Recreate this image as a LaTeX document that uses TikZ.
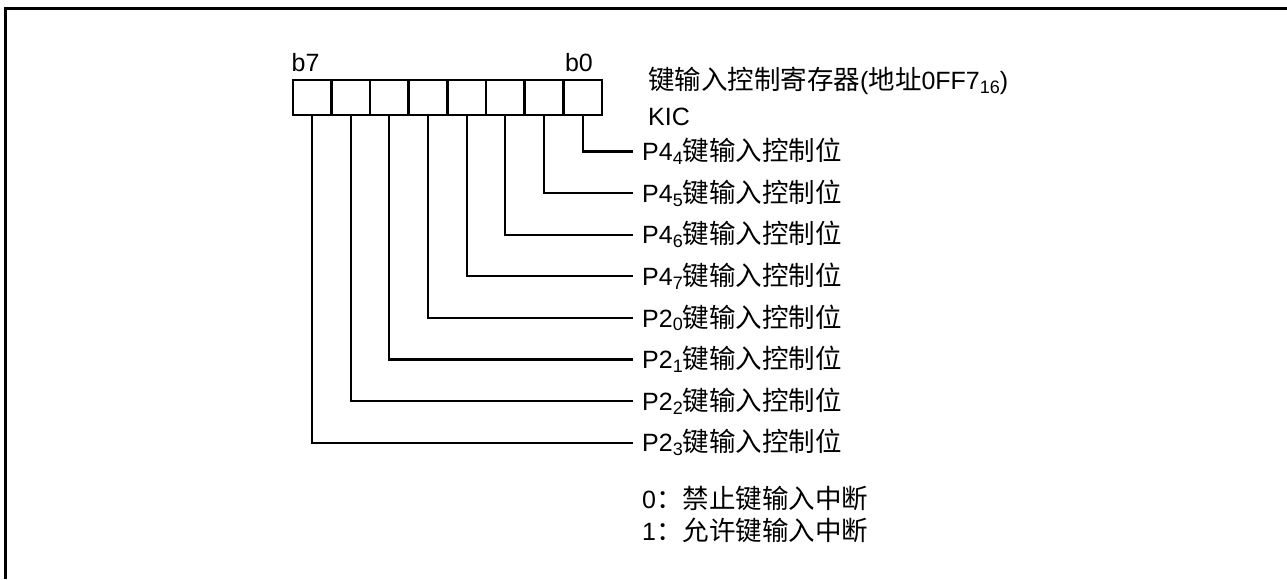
\documentclass[tikz,border=0pt]{standalone}
\usepackage{fontspec}
\setmainfont{Liberation Sans}
\newfontfamily\cjk{Noto Sans CJK SC}
\newcommand{\zh}[1]{{\cjk\fontsize{26.5}{28}\selectfont #1}}
\newcommand{\sbs}[1]{\raisebox{-0.15em}{\fontsize{18}{20}\selectfont #1}}
\begin{document}
\begin{tikzpicture}[x=1pt,y=-1pt,
  cell/.style={draw,line width=2.5pt,minimum width=38.65pt,minimum height=35pt,inner sep=0pt,anchor=north west},
  wire/.style={line width=2.2pt},
  lbl/.style={anchor=west,inner sep=0pt,font=\fontsize{25}{28}\selectfont},
  frame/.style={line width=3pt}]
\useasboundingbox (0,0) rectangle (1287,579);
\draw[frame] (5.5,579) -- (5.5,8.5) -- (1287,8.5);
% register cells, c7 leftmost
\foreach \b [evaluate=\b as \xx using {291.5+(7-\b)*38.65}] in {7,6,...,0}{
  \node[cell] (c\b) at (\xx,78.5) {};
}
\node[lbl,anchor=south west] (b7) at (291.5,72) {b7};
\node[lbl,anchor=south east] (b0) at (593,72) {b0};
\node[lbl] (title) at (648,81) {\zh{键输入控制寄存器}(\zh{地址}0FF7\sbs{16})};
\node[lbl] (kic) at (648,117) {KIC};
\foreach \b/\p/\s in {0/4/4,1/4/5,2/4/6,3/4/7,4/2/0,5/2/1,6/2/2,7/2/3}{
  \coordinate (e\b) at (633,{151.5+41.6*\b});
  \node[lbl] (t\b) at (642,{151.5+41.6*\b}) {P\p\sbs{\s}\zh{键输入控制位}};
  \draw[wire] (c\b.south) |- (e\b);
}
\node[lbl] (l0) at (642,498) {0\zh{：禁止键输入中断}};
\node[lbl] (l1) at (642,530) {1\zh{：允许键输入中断}};
\end{tikzpicture}
\end{document}
